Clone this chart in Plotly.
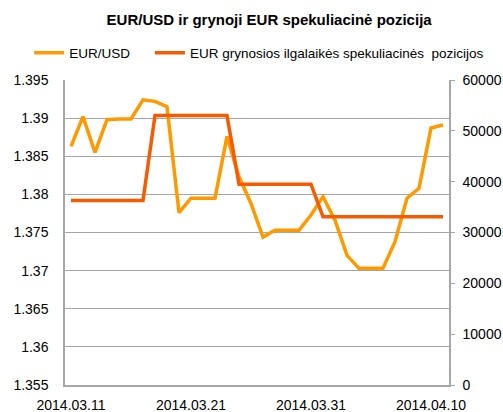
import plotly.graph_objects as go
import datetime as dt

start = dt.date(2014, 3, 11)
dates = [(start + dt.timedelta(days=i)).strftime("%Y.%m.%d") for i in range(32)]

eurusd = [1.3863, 1.3902, 1.3855, 1.3898, 1.3899, 1.3899, 1.3924, 1.3922, 1.3915, 1.3776,
          1.3795, 1.3795, 1.3795, 1.3876, 1.3823, 1.3788, 1.3744, 1.3753, 1.3753, 1.3753,
          1.3773, 1.3797, 1.3766, 1.3720, 1.3703, 1.3703, 1.3703, 1.3738, 1.3795, 1.3808,
          1.3887, 1.3891]

positions = [36300] * 7 + [53000] * 7 + [39500] * 7 + [33100] * 11

xticks = ["2014.03.11", "2014.03.21", "2014.03.31", "2014.04.10"]
left_ticks = [1.355, 1.36, 1.365, 1.37, 1.375, 1.38, 1.385, 1.39, 1.395]
left_labels = ["1.355", "1.36", "1.365", "1.37", "1.375", "1.38", "1.385", "1.39", "1.395"]
right_ticks = [0, 10000, 20000, 30000, 40000, 50000, 60000]
right_labels = ["0", "10000", "20000", "30000", "40000", "50000", "60000"]

FONT = "Liberation Sans, Arial, sans-serif"

fig = go.Figure()
fig.add_trace(go.Scatter(x=dates, y=eurusd, name="EUR/USD", mode="lines",
                         line=dict(color="#FF9900", width=3.5), legend="legend"))
fig.add_trace(go.Scatter(x=dates, y=positions, name="EUR grynosios ilgalaikės spekuliacinės  pozicijos",
                         mode="lines", yaxis="y2", legend="legend2",
                         line=dict(color="#F85A00", width=3.5)))

leg_common = dict(orientation="h", xref="container", yref="container",
                  y=1 - 53 / 412, xanchor="left", yanchor="middle",
                  font=dict(size=13.5, family=FONT), itemwidth=30,
                  bgcolor="rgba(0,0,0,0)")

fig.update_layout(
    width=503, height=412,
    margin=dict(l=65, r=54, t=80, b=27, autoexpand=False),
    paper_bgcolor="white", plot_bgcolor="white",
    font=dict(family=FONT, size=14, color="#000000"),
    title=dict(text="<b>EUR/USD ir grynoji EUR spekuliacinė pozicija</b>",
               x=0.535, xref="container", xanchor="center",
               y=1 - 20 / 412, yref="container", yanchor="middle",
               font=dict(size=15, family=FONT, color="#000000")),
    showlegend=True,
    legend=dict(x=0.058, **leg_common),
    legend2=dict(x=0.298, **leg_common),
    xaxis=dict(type="category", range=[-0.5, 31.5], tickmode="array",
               tickvals=xticks, ticktext=xticks, showgrid=False,
               showline=True, linecolor="#A6A6A6", linewidth=1.5,
               ticks="", tickfont=dict(size=14), zeroline=False,
               ticklabelstandoff=6, automargin=False),
    yaxis=dict(range=[1.355, 1.395], tickmode="array", tickvals=left_ticks,
               ticktext=left_labels, showgrid=True, gridcolor="#A6A6A6",
               gridwidth=1, showline=True, linecolor="#A6A6A6", linewidth=1.5,
               ticks="", ticklabelstandoff=12, zeroline=False,
               tickfont=dict(size=14), automargin=False),
    yaxis2=dict(range=[0, 60000], overlaying="y", side="right", tickmode="array",
                tickvals=right_ticks, ticktext=right_labels, showgrid=False, showline=True,
                linecolor="#A6A6A6", linewidth=1.5, ticks="outside", ticklen=4,
                tickcolor="#A6A6A6", ticklabelstandoff=5, zeroline=False,
                tickfont=dict(size=14), automargin=False),
)

fig.write_html("out.html")
